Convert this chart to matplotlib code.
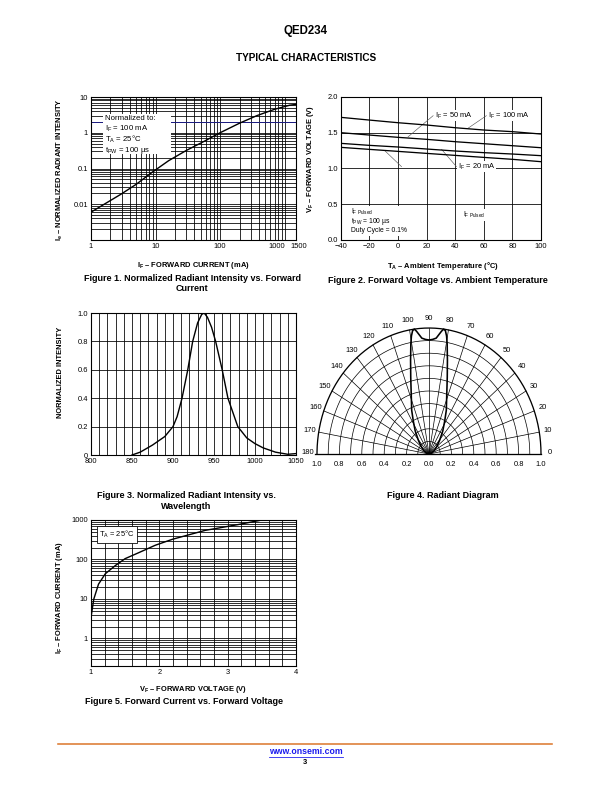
import numpy as np
import matplotlib
matplotlib.use("Agg")
import matplotlib.pyplot as plt
from matplotlib.ticker import LogLocator, FixedLocator, MultipleLocator, NullFormatter
from matplotlib.patches import Rectangle
from matplotlib.lines import Line2D
import matplotlib.transforms as mtransforms

plt.rcParams['font.family'] = ['Liberation Sans', 'DejaVu Sans']
plt.rcParams['mathtext.fontset'] = 'custom'
plt.rcParams['mathtext.rm'] = 'Liberation Sans'
plt.rcParams['mathtext.it'] = 'Liberation Sans:italic'
plt.rcParams['mathtext.bf'] = 'Liberation Sans:bold'

# Figure 1 - radiant intensity vs forward current
fig1_if = [1, 1.6, 2.9, 5, 9, 16, 30, 56, 100, 200, 370, 690, 1200, 1500]
fig1_ie = [0.006, 0.01, 0.019, 0.036, 0.08, 0.166, 0.32, 0.57, 1.0, 1.85, 3.0, 4.5, 5.9, 6.2]
fig1_xticks = [1, 10, 100, 1000, 1500]
fig1_yticks = [0.01, 0.1, 1, 10]

# Figure 2 - forward voltage vs ambient temperature
fig2_temp = [-40, -20, 0, 20, 40, 60, 80, 100]
fig2_vf_top = [1.712, 1.674, 1.637, 1.605, 1.567, 1.535, 1.512, 1.479]
fig2_vf_2 = [1.498, 1.465, 1.433, 1.405, 1.372, 1.344, 1.316, 1.288]
fig2_vf_3 = [1.349, 1.321, 1.298, 1.270, 1.242, 1.219, 1.200, 1.177]
fig2_vf_4 = [1.293, 1.265, 1.237, 1.209, 1.181, 1.153, 1.126, 1.093]

# Figure 3 - spectrum
fig3_wl = [850, 860, 875, 890, 900, 905, 911, 918, 924, 930, 935, 938, 942, 947,
           952, 960, 967, 979, 990, 1000, 1010, 1025, 1040, 1050]
fig3_int = [0.0, 0.02, 0.07, 0.13, 0.2, 0.27, 0.4, 0.6, 0.8, 0.93, 0.99, 1.0, 0.97, 0.9,
            0.8, 0.6, 0.4, 0.2, 0.12, 0.08, 0.05, 0.02, 0.005, 0.01]

# Figure 4 - radiant diagram (offset from 90 deg, relative intensity)
fig4_offset = [0, 2, 4, 6.5, 7.5, 8.5, 9.5, 10.5, 12.5, 15, 18.5, 24, 28, 34, 41, 50, 60, 75, 90]
fig4_r = [0.905, 0.91, 0.922, 0.98, 1.0, 0.99, 0.95, 0.89, 0.76, 0.63, 0.50, 0.38, 0.30,
          0.22, 0.145, 0.09, 0.055, 0.02, 0.0]
fig4_angles = list(range(0, 181, 10))
fig4_radii = [0.1, 0.2, 0.3, 0.4, 0.5, 0.6, 0.7, 0.8, 0.9, 1.0]
fig4_xticks = [-1.0, -0.8, -0.6, -0.4, -0.2, 0.0, 0.2, 0.4, 0.6, 0.8, 1.0]

# Figure 5 - forward current vs forward voltage
fig5_vf = [1.0, 1.04, 1.11, 1.21, 1.36, 1.50, 1.70, 1.94, 2.19, 2.43, 2.67, 2.92, 3.16, 3.50]
fig5_if = [3.4, 9.8, 23.7, 43.6, 71, 105, 149, 229, 324, 421, 546, 650, 770, 1000]

W, H = 612, 792
fig = plt.figure(figsize=(W / 72, H / 72), dpi=72)


def box(l, t, r, b):
    # pixel box -> figure fraction
    return [l / W, 1 - b / H, (r - l) / W, (b - t) / H]


def style(ax):
    for s in ax.spines.values():
        s.set_linewidth(1.1)
    ax.tick_params(which='both', length=0, labelsize=7.5, pad=3)
    ax.set_axisbelow(True)


def ptxt(x, y, s, **kw):
    fig.text(x / W, 1 - y / H, s, ha=kw.pop('ha', 'center'), va=kw.pop('va', 'center'), **kw)


GRID = dict(color='k', lw=0.8)
LBL = dict(fontsize=7.5, fontweight='bold')
CAP = dict(fontsize=9, fontweight='bold')
NOTE = 7.5

# ---- page header ----
ptxt(306, 31, 'QED234', fontsize=11.5, fontweight='bold')
ptxt(306, 58, 'TYPICAL CHARACTERISTICS', fontsize=10, fontweight='bold')

# ---- figure 1 ----
ax1 = fig.add_axes(box(91, 97, 296, 240))
style(ax1)
ax1.set_xscale('log')
ax1.set_yscale('log')
ax1.set_xlim(1, 1500)
ax1.set_ylim(0.001, 10)
ax1.xaxis.set_major_locator(FixedLocator(fig1_xticks))
ax1.set_xticklabels([str(v) for v in fig1_xticks])
ax1.xaxis.set_minor_locator(LogLocator(base=10, subs=np.arange(2, 10)))
ax1.xaxis.set_minor_formatter(NullFormatter())
ax1.yaxis.set_major_locator(FixedLocator(fig1_yticks))
ax1.set_yticklabels(['0.01', '0.1', '1', '10'])
ax1.yaxis.set_minor_locator(LogLocator(base=10, subs=np.arange(2, 10)))
ax1.yaxis.set_minor_formatter(NullFormatter())
ax1.grid(which='both', **GRID)
ax1.axhline(2, color='#1c1c80', lw=1.0, zorder=0.6)
xl = ax1.get_xticklabels()
xl[3].set_ha('right')
xl[4].set_ha('left')
xl[4].set_transform(xl[4].get_transform() + mtransforms.ScaledTranslation(-6 / 72, 0, fig.dpi_scale_trans))
ax1.plot(fig1_if, fig1_ie, color='k', lw=1.4, zorder=3)
ax1.add_patch(Rectangle((0.059, 0.600), 0.33, 0.278, transform=ax1.transAxes,
                        facecolor='white', edgecolor='none', zorder=1))
for i, s in enumerate(['Normalized to:', r'I$_\mathregular{F}$ = 100 mA',
                       r'T$_\mathregular{A}$ = 25°C', r't$_\mathregular{PW}$ = 100 µs']):
    ax1.text(0.068, 0.853 - i * 0.075, s, transform=ax1.transAxes, fontsize=7.8,
             va='center', ha='left', zorder=2)
ax1.set_xlabel(r'I$_\mathbf{F}$ – FORWARD CURRENT (mA)', **LBL)
ax1.xaxis.set_label_coords(0.5, -0.14)
ax1.set_ylabel(r'I$_\mathbf{e}$ – NORMALIZED RADIANT INTENSITY', **LBL)
ax1.yaxis.set_label_coords(-0.125, 0.49)
ptxt(192, 283.5, 'Figure 1. Normalized Radiant Intensity vs. Forward\nCurrent', **CAP)

# ---- figure 2 ----
ax2 = fig.add_axes(box(340.7, 96.7, 541, 240))
style(ax2)
ax2.set_xlim(-40, 100)
ax2.set_ylim(0, 2)
ax2.xaxis.set_major_locator(MultipleLocator(20))
ax2.yaxis.set_major_locator(FixedLocator([0, 0.5, 1.0, 1.5, 2.0]))
ax2.set_yticklabels(['0.0', '0.5', '1.0', '1.5', '2.0'])
ax2.grid(which='major', **GRID)
for ys in (fig2_vf_top, fig2_vf_2, fig2_vf_3, fig2_vf_4):
    ax2.plot(fig2_temp, ys, color='k', lw=1.3, zorder=3)
lead = dict(color='#555555', lw=0.6, zorder=2)
ax2.plot([24.6, 7.1], [1.735, 1.44], **lead)
ax2.plot([61.8, 49.0], [1.735, 1.56], **lead)
ax2.plot([40.9, 30.5], [1.024, 1.265], **lead)
ax2.plot([2.5, -9.1], [1.024, 1.245], **lead)
for x0, y0, s in [(26, 1.735, r'I$_\mathregular{F}$ = 50 mA'),
                  (63, 1.735, r'I$_\mathregular{F}$ = 100 mA'),
                  (42, 1.024, r'I$_\mathregular{F}$ = 20 mA')]:
    ax2.text(x0, y0, s, fontsize=NOTE, va='center', ha='left',
             bbox=dict(fc='white', ec='none', pad=0.5), zorder=4)
ax2.add_patch(Rectangle((0.03, 0.03), 0.4, 0.21, transform=ax2.transAxes,
                        facecolor='white', edgecolor='none', zorder=1))
for i, s in enumerate([r'I$_\mathregular{F\ Pulsed}$', r't$_\mathregular{PW}$ = 100 µs',
                       'Duty Cycle = 0.1%']):
    ax2.text(0.05, 0.198 - i * 0.066, s, transform=ax2.transAxes, fontsize=6.8,
             va='center', ha='left', zorder=2)
ax2.text(0.612, 0.174, r'I$_\mathregular{F\ Pulsed}$', transform=ax2.transAxes, fontsize=6.8,
         va='center', ha='left', zorder=2, bbox=dict(fc='white', ec='none', pad=0.5))
ax2.set_xlabel(r'T$_\mathbf{A}$ – Ambient Temperature (°C)', **LBL)
ax2.xaxis.set_label_coords(0.51, -0.14)
ax2.set_ylabel(r'V$_\mathbf{F}$ – FORWARD VOLTAGE (V)', **LBL)
ax2.yaxis.set_label_coords(-0.123, 0.565)
ptxt(438, 280, 'Figure 2. Forward Voltage vs. Ambient Temperature', **CAP)

# ---- figure 3 ----
ax3 = fig.add_axes(box(91, 313, 296, 455))
style(ax3)
ax3.set_xlim(800, 1050)
ax3.set_ylim(0, 1)
ax3.xaxis.set_major_locator(MultipleLocator(50))
ax3.xaxis.set_minor_locator(MultipleLocator(10))
ax3.yaxis.set_major_locator(FixedLocator([0, 0.2, 0.4, 0.6, 0.8, 1.0]))
ax3.set_yticklabels(['0', '0.2', '0.4', '0.6', '0.8', '1.0'])
ax3.grid(which='both', **GRID)
ax3.plot(fig3_wl, fig3_int, color='k', lw=1.4, zorder=3)
ax3.set_ylabel('NORMALIZED INTENSITY', **LBL)
ax3.yaxis.set_label_coords(-0.13, 0.585)
ptxt(186, 501, 'Figure 3. Normalized Radiant Intensity vs.\nWavelength', **CAP)

# ---- figure 4 ----
ax4 = fig.add_axes(box(300.2, 312.9, 557.8, 469.1))
ax4.set_xlim(-1.15, 1.15)
ax4.set_ylim(-0.12, 1.12)
ax4.axis('off')
t = np.linspace(0, np.pi, 200)
for r in fig4_radii:
    ax4.plot(r * np.cos(t), r * np.sin(t), color='k', lw=1.3 if r == 1.0 else 0.7)
for a in fig4_angles:
    ra = np.radians(a)
    ax4.plot([0, np.cos(ra)], [0, np.sin(ra)], color='k', lw=0.7)
    ax4.text(1.08 * np.cos(ra), 1.075 * np.sin(ra) + (0.01 if a in (0, 180) else 0), str(a),
             fontsize=7.5, ha='center', va='center')
ax4.plot([-1.02, 1.0], [0, 0], color='k', lw=1.3)
for xv in fig4_xticks:
    ax4.text(xv, -0.087, f'{abs(xv):.1f}', fontsize=7.5, ha='center', va='center')
off = np.array(fig4_offset)
rr = np.array(fig4_r)
ang = np.radians(90 + np.concatenate([-off[::-1], off[1:]]))
rad = np.concatenate([rr[::-1], rr[1:]])
ax4.plot(rad * np.cos(ang), rad * np.sin(ang), color='k', lw=1.6, zorder=3)
ptxt(443, 495, 'Figure 4. Radiant Diagram', **CAP)

# ---- figure 5 ----
ax5 = fig.add_axes(box(91, 520, 296, 666))
style(ax5)
ax5.set_yscale('log')
ax5.set_xlim(1, 4)
ax5.set_ylim(0.2, 1000)
ax5.xaxis.set_major_locator(MultipleLocator(1))
ax5.xaxis.set_minor_locator(MultipleLocator(0.2))
ax5.yaxis.set_major_locator(FixedLocator([1, 10, 100, 1000]))
ax5.set_yticklabels(['1', '10', '100', '1000'])
ax5.yaxis.set_minor_locator(LogLocator(base=10, subs=np.arange(2, 10)))
ax5.yaxis.set_minor_formatter(NullFormatter())
ax5.grid(which='both', **GRID)
ax5.plot(fig5_vf, fig5_if, color='k', lw=1.4, zorder=3)
ax5.text(0.04, 0.9, r'T$_\mathregular{A}$ = 25°C', transform=ax5.transAxes, fontsize=NOTE,
         va='center', ha='left', zorder=4,
         bbox=dict(fc='white', ec='k', lw=0.8, boxstyle='square,pad=0.35'))
ax5.set_xlabel(r'V$_\mathbf{F}$ – FORWARD VOLTAGE (V)', **LBL)
ax5.xaxis.set_label_coords(0.5, -0.12)
ax5.set_ylabel(r'I$_\mathbf{F}$ – FORWARD CURRENT (mA)', **LBL)
ax5.yaxis.set_label_coords(-0.125, 0.47)
ptxt(184, 702, 'Figure 5. Forward Current vs. Forward Voltage', **CAP)

# ---- footer ----
fig.add_artist(Line2D([58 / W, 552 / W], [1 - 744 / H, 1 - 744 / H], color='#DD7B33', lw=1.6))
url = fig.text(306 / W, 1 - 752 / H, 'www.onsemi.com', fontsize=8.8, fontweight='bold',
               color='#1a1aee', ha='center', va='center')
fig.canvas.draw()
bb = url.get_window_extent().transformed(fig.transFigure.inverted())
fig.add_artist(Line2D([bb.x0, bb.x1], [bb.y0 - 0.0005, bb.y0 - 0.0005], color='#1a1aee', lw=0.8))
ptxt(305, 762, '3', fontsize=7.5, fontweight='bold')

fig.savefig('out.png', dpi=72)
